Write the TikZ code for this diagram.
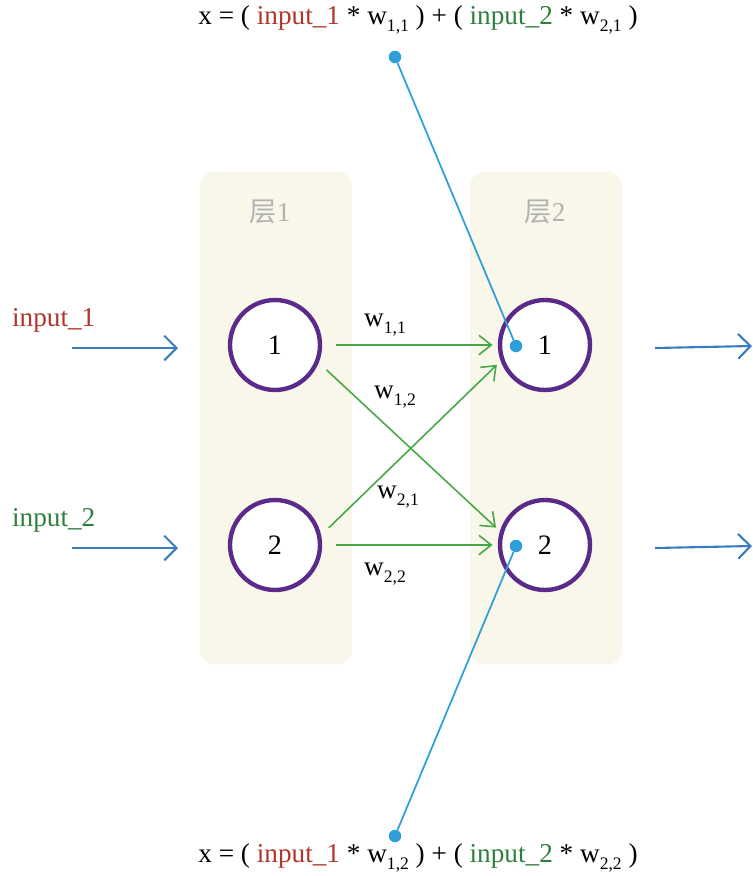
\documentclass[tikz,border=0pt]{standalone}
\usepackage{fontspec}
\setmainfont{Liberation Serif}
\newfontfamily\cjk{Noto Sans CJK SC}
\usepackage{tikz}
\usetikzlibrary{arrows.meta, positioning, calc}

\definecolor{panelbg}{HTML}{F9F7EA}
\definecolor{neuron}{HTML}{5B2B8C}
\definecolor{inred}{HTML}{B0362C}
\definecolor{ingreen}{HTML}{2E7F3C}
\definecolor{wire}{HTML}{45A845}
\definecolor{flow}{HTML}{3A7CBF}
\definecolor{probe}{HTML}{2E9FD9}

\newcommand{\wsub}[1]{w\raisebox{-0.55ex}{\fontsize{10}{11}\selectfont #1}}

\tikzset{
    panel/.style={fill=panelbg, rounded corners=0.3cm, minimum width=3.04cm, minimum height=9.86cm},
    neuron/.style={circle, draw=neuron, line width=2.5pt, fill=white, minimum size=1.8cm, font=\fontsize{16}{18}\selectfont},
    weight/.style={->, draw=wire, line width=0.9pt, >={Straight Barb[length=7pt, width=11pt]}},
    flowarrow/.style={->, draw=flow, line width=1.2pt, >={Straight Barb[length=7pt, width=14pt]}},
    dot/.style={circle, fill=probe, inner sep=0pt, minimum size=0.25cm},
    probeline/.style={draw=probe, line width=1pt},
    lbl/.style={font=\fontsize{15.5}{18}\selectfont, inner sep=1pt},
}

\begin{document}
\begin{tikzpicture}[x=0.02cm, y=-0.02cm]
    \useasboundingbox (0,0) rectangle (753,876);

    % layers
    \node (layer1) [panel] at (276,418) {};
    \node (layer2) [panel] at (546,418) {};
    \node (title1) [lbl, text=black!30] at (270,212) {{\cjk 层}1};
    \node (title2) [lbl, text=black!30] at (545,212) {{\cjk 层}2};

    % neurons
    \node (n11) [neuron] at (275,345) {1};
    \node (n12) [neuron] at (275,545) {2};
    \node (n21) [neuron] at (545,345) {1};
    \node (n22) [neuron] at (545,545) {2};

    % inputs
    \node (in1) [lbl, text=inred, anchor=west] at (10,320) {input\_1};
    \node (in2) [lbl, text=ingreen, anchor=west] at (10,520) {input\_2};
    \coordinate (s1) at (72,348);
    \coordinate (s2) at (72,548);
    \coordinate (e1) at (178,348);
    \coordinate (e2) at (178,548);
    \draw[flowarrow] (s1) -- (e1);
    \draw[flowarrow] (s2) -- (e2);

    % outputs
    \coordinate (o1) at (655,348);
    \coordinate (o2) at (655,548);
    \coordinate (p1) at (752,346);
    \coordinate (p2) at (752,546);
    \draw[flowarrow] (o1) -- (p1);
    \draw[flowarrow] (o2) -- (p2);

    % weights
    \draw[weight, shorten <=8pt, shorten >=3pt] (n11.east) -- (n21.west);
    \draw[weight, shorten <=6pt, shorten >=3pt] (n11.-22) -- (n22.163);
    \draw[weight, shorten <=6pt, shorten >=3pt] (n12.12) -- (n21.-160);
    \draw[weight, shorten <=8pt, shorten >=3pt] (n12.east) -- (n22.west);
    \node (w11) [lbl] at (385,325) {\wsub{1,1}};
    \node (w12) [lbl] at (395,397) {\wsub{1,2}};
    \node (w21) [lbl] at (398,497) {\wsub{2,1}};
    \node (w22) [lbl] at (385,574) {\wsub{2,2}};

    % formulas
    \node (top) [lbl] at (418,20) {x = ( \textcolor{inred}{input\_1} * \wsub{1,1} ) + ( \textcolor{ingreen}{input\_2} * \wsub{2,1} )};
    \node (bot) [lbl] at (418,858) {x = ( \textcolor{inred}{input\_1} * \wsub{1,2} ) + ( \textcolor{ingreen}{input\_2} * \wsub{2,2} )};
    \node (d1) [dot] at (395,57) {};
    \node (d2) [dot] at (516,346) {};
    \node (d3) [dot] at (395,836) {};
    \node (d4) [dot] at (516,546) {};
    \draw[probeline] (d1) -- (d2);
    \draw[probeline] (d3) -- (d4);
\end{tikzpicture}
\end{document}
